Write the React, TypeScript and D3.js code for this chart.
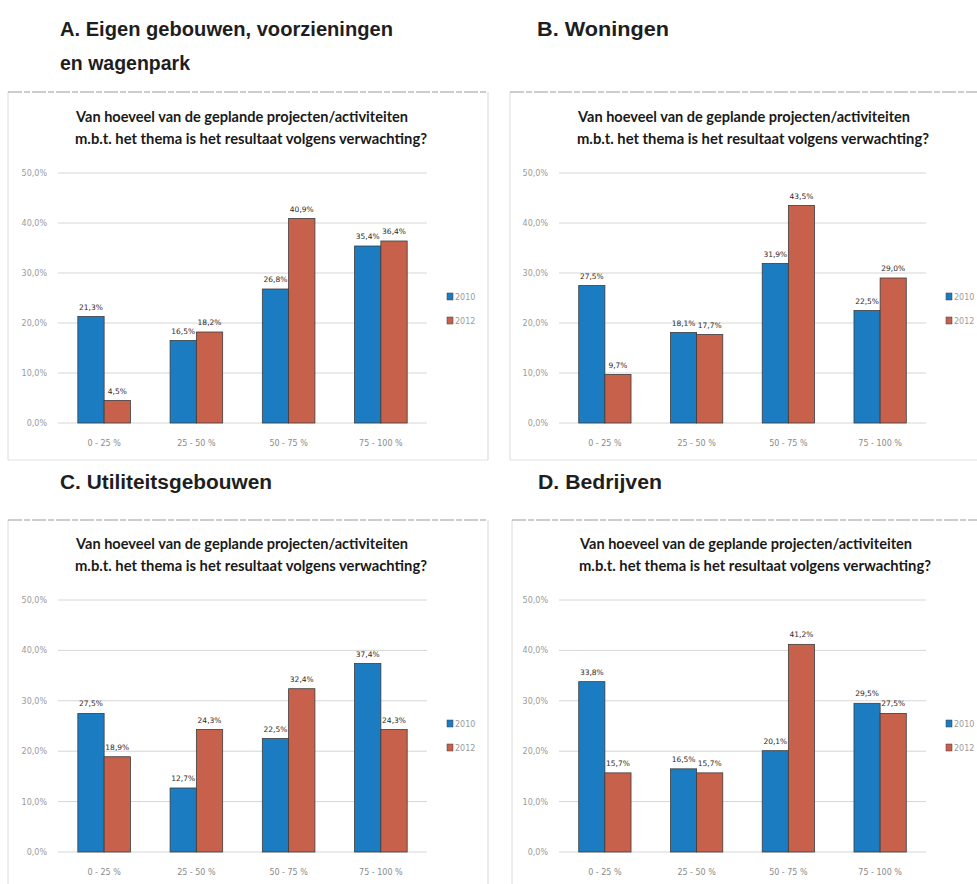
import React from "react";
import * as d3 from "d3";

const categories = ["0 - 25 %", "25 - 50 %", "50 - 75 %", "75 - 100 %"];
const seriesNames = ["2010", "2012"];
const yTicks = [0, 10, 20, 30, 40, 50];

const panelA2010 = [21.3, 16.5, 26.8, 35.4];
const panelA2012 = [4.5, 18.2, 40.9, 36.4];
const panelB2010 = [27.5, 18.1, 31.9, 22.5];
const panelB2012 = [9.7, 17.7, 43.5, 29.0];
const panelC2010 = [27.5, 12.7, 22.5, 37.4];
const panelC2012 = [18.9, 24.3, 32.4, 24.3];
const panelD2010 = [33.8, 16.5, 20.1, 29.5];
const panelD2012 = [15.7, 15.7, 41.2, 27.5];

const headingA = ["A. Eigen gebouwen, voorzieningen", "en wagenpark"];
const headingB = ["B. Woningen"];
const headingC = ["C. Utiliteitsgebouwen"];
const headingD = ["D. Bedrijven"];
const chartTitle = [
  "Van hoeveel van de geplande projecten/activiteiten",
  "m.b.t. het thema is het resultaat volgens verwachting?",
];

const COLORS = ["#1c7cc2", "#c8614b"];
const fmt = (v: number) => d3.format(".1f")(v).replace(".", ",") + "%";

type PanelProps = {
  s2010: number[];
  s2012: number[];
  frame: { x0: number; y0: number; x1: number; y1: number; right: boolean; bottom: boolean };
  plot: { x0: number; x1: number; y0: number; y1: number };
};

function Panel({ s2010, s2012, frame, plot }: PanelProps) {
  const x = d3
    .scaleBand<string>()
    .domain(categories)
    .range([plot.x0, plot.x1])
    .paddingInner(0.43)
    .paddingOuter(0.215);
  const sub = d3.scaleBand<string>().domain(seriesNames).range([0, x.bandwidth()]);
  const y = d3.scaleLinear().domain([0, 50]).range([plot.y1, plot.y0]);
  const series = [s2010, s2012];
  const tcx = frame.x0 + 234;
  return (
    <g>
      <rect x={frame.x0} y={frame.y0} width={frame.x1 - frame.x0} height={frame.y1 - frame.y0} fill="#ffffff" stroke="none" />
      <line x1={frame.x0} x2={frame.x0} y1={frame.y0} y2={frame.y1} stroke="#dcdcdc" strokeWidth={1} />
      {frame.right && <line x1={frame.x1} x2={frame.x1} y1={frame.y0} y2={frame.y1} stroke="#d4d4d4" strokeWidth={1} />}
      {frame.bottom && <line x1={frame.x0} x2={frame.x1} y1={frame.y1} y2={frame.y1} stroke="#e2e2e2" strokeWidth={1} />}
      <line x1={frame.x0} x2={frame.x1} y1={frame.y0} y2={frame.y0} stroke="#9a9a9a" strokeWidth={1} strokeDasharray="14 2 6 2" />
      <text x={tcx} y={plot.y0 - 51} textAnchor="middle" fontFamily="Lato, 'Open Sans', sans-serif" fontWeight={700} fontSize={16} fill="#1a1a1a" textLength={332} lengthAdjust="spacingAndGlyphs">{chartTitle[0]}</text>
      <text x={tcx + 9} y={plot.y0 - 29} textAnchor="middle" fontFamily="Lato, 'Open Sans', sans-serif" fontWeight={700} fontSize={16} fill="#1a1a1a" textLength={352} lengthAdjust="spacingAndGlyphs">{chartTitle[1]}</text>
      {yTicks.map((t) => (
        <g key={t}>
          <line x1={plot.x0} x2={plot.x1} y1={y(t)} y2={y(t)} stroke="#d6d6d6" strokeWidth={1} />
          <text x={plot.x0 - 11} y={y(t) + 3} textAnchor="end" fontFamily="'DejaVu Sans', sans-serif" fontSize={8} fill="#9a9a9a">{fmt(t)}</text>
        </g>
      ))}
      {categories.map((c, i) => (
        <g key={c}>
          {series.map((s, k) => {
            const bx = (x(c) as number) + (sub(seriesNames[k]) as number);
            const by = y(s[i]);
            return (
              <g key={k}>
                <rect x={bx} y={by} width={sub.bandwidth()} height={y(0) - by} fill={COLORS[k]} stroke="#3c3c3c" strokeWidth={0.8} />
                <text x={bx + sub.bandwidth() / 2} y={by - 7} textAnchor="middle" fontFamily="'DejaVu Sans', sans-serif" fontSize={7.5} fill="#2a2a2a">{fmt(s[i])}</text>
              </g>
            );
          })}
          <text x={(x(c) as number) + x.bandwidth() / 2} y={plot.y1 + 23} textAnchor="middle" fontFamily="'DejaVu Sans', sans-serif" fontSize={8} fill="#8a8a8a">{c}</text>
        </g>
      ))}
      {seriesNames.map((n, k) => (
        <g key={n}>
          <rect x={plot.x1 + 20} y={plot.y0 + 120 + k * 24} width={6} height={7} fill={COLORS[k]} stroke="#3c3c3c" strokeWidth={0.5} />
          <text x={plot.x1 + 28} y={plot.y0 + 127 + k * 24} fontFamily="'DejaVu Sans', sans-serif" fontSize={8} fill="#9a9a9a">{n}</text>
        </g>
      ))}
    </g>
  );
}

function Heading({ lines, x, y, widths }: { lines: string[]; x: number; y: number; widths: number[] }) {
  return (
    <g>
      {lines.map((l, i) => (
        <text key={i} x={x} y={y + i * 34} fontFamily="'Liberation Sans', Arial, sans-serif" fontWeight={700} fontSize={19.5} fill="#1e1e1e" textLength={widths[i]} lengthAdjust="spacingAndGlyphs">{l}</text>
      ))}
    </g>
  );
}

export default function App() {
  return (
    <svg width={977} height={884} style={{ position: "absolute", left: 0, top: 0, background: "#ffffff" }}>
      <rect x={0} y={0} width={977} height={884} fill="#ffffff" />
      <Heading lines={headingA} x={60} y={36} widths={[333, 130]} />
      <Heading lines={headingB} x={537} y={36} widths={[132]} />
      <Heading lines={headingC} x={60} y={489} widths={[212]} />
      <Heading lines={headingD} x={538} y={489} widths={[124]} />
      <Panel s2010={panelA2010} s2012={panelA2012}
        frame={{ x0: 8, y0: 92, x1: 488, y1: 460, right: true, bottom: true }}
        plot={{ x0: 58, x1: 427, y0: 173, y1: 423 }} />
      <Panel s2010={panelB2010} s2012={panelB2012}
        frame={{ x0: 510, y0: 92, x1: 977, y1: 460, right: false, bottom: true }}
        plot={{ x0: 559, x1: 926, y0: 173, y1: 423 }} />
      <Panel s2010={panelC2010} s2012={panelC2012}
        frame={{ x0: 8, y0: 520, x1: 488, y1: 884, right: true, bottom: false }}
        plot={{ x0: 58, x1: 427, y0: 600, y1: 852 }} />
      <Panel s2010={panelD2010} s2012={panelD2012}
        frame={{ x0: 512, y0: 520, x1: 977, y1: 884, right: false, bottom: false }}
        plot={{ x0: 559, x1: 926, y0: 600, y1: 852 }} />
    </svg>
  );
}
